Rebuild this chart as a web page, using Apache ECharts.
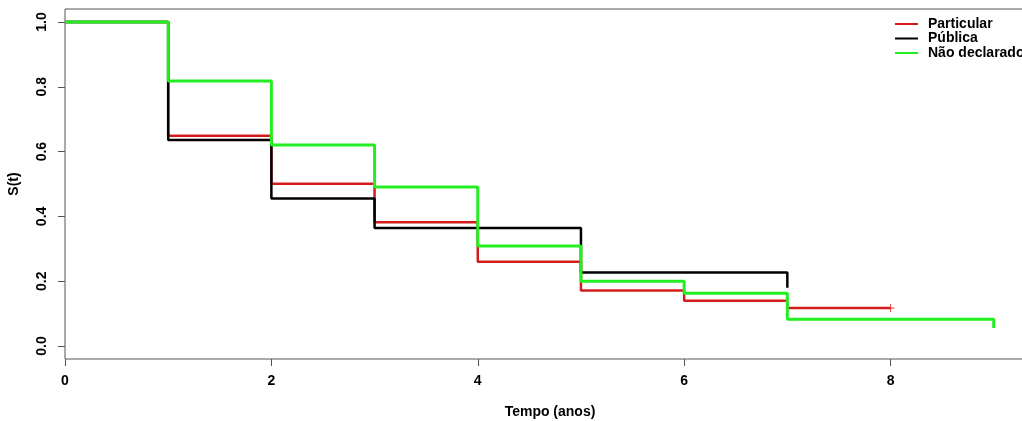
<!DOCTYPE html>
<html>
<head>
<meta charset="utf-8">
<script src="https://cdn.jsdelivr.net/npm/echarts@6/dist/echarts.min.js"></script>
<style>html,body{margin:0;padding:0;background:#fff}#c{width:1022px;height:421px}</style>
</head>
<body>
<div id="c"></div>
<script>
// Kaplan-Meier step values: value S holds from time t onward
const seriesNames = ['Particular', 'Pública', 'Não declarado'];
const timesParticular = [0, 1, 2, 3, 4, 5, 6, 7, 8];
const survParticular  = [1.0, 0.649, 0.501, 0.382, 0.260, 0.171, 0.140, 0.117, 0.117];
const timesPublica    = [0, 1, 2, 3, 5, 7];
const survPublica     = [1.0, 0.636, 0.455, 0.364, 0.227, 0.180];
const timesNaoDecl    = [0, 1, 2, 3, 4, 5, 6, 7, 9];
const survNaoDecl     = [1.0, 0.818, 0.620, 0.491, 0.309, 0.200, 0.163, 0.083, 0.056];
const censorParticular = [[8, 0.117]];
const xTicks = [0, 2, 4, 6, 8];
const yTicks = [0, 0.2, 0.4, 0.6, 0.8, 1.0];

const colors = ['#d41c1c', '#000000', '#22ee22'];
const widths = [2.5, 2.5, 3];
const zip = (t, s) => t.map((v, i) => [v, s[i]]);
const dataSets = [zip(timesParticular, survParticular), zip(timesPublica, survPublica), zip(timesNaoDecl, survNaoDecl)];

const font = 'Liberation Sans, Arial, sans-serif';
const chart = echarts.init(document.getElementById('c'), null, {renderer: 'canvas'});
const series = dataSets.map((d, i) => ({
  name: seriesNames[i],
  type: 'line',
  step: 'end',
  data: d,
  symbol: 'none',
  color: colors[i],
  lineStyle: {color: colors[i], width: widths[i]},
  animation: false,
  z: 2 + i
}));
series.push({
  name: 'censor',
  type: 'scatter',
  data: censorParticular,
  symbol: 'path://M0,5L10,5M5,0L5,10',
  symbolSize: 8,
  itemStyle: {color: 'none', borderColor: '#d41c1c', borderWidth: 1},
  animation: false,
  z: 2
});

chart.setOption({
  backgroundColor: '#ffffff',
  animation: false,
  grid: {left: 65, top: 9, right: -13, bottom: 62, show: true, borderColor: '#555', borderWidth: 1, backgroundColor: 'transparent', containLabel: false, outerBoundsMode: 'none'},
  legend: {
    data: seriesNames,
    orient: 'vertical',
    left: 895,
    top: 17,
    itemWidth: 23,
    itemHeight: 14,
    itemGap: 0.5,
    icon: 'path://M0,6.5H23V8.5H0Z',
    textStyle: {fontFamily: font, fontWeight: 'bold', fontSize: 14, color: '#000', lineHeight: 14, padding: [0, 0, 0, 5]},
    padding: 0
  },
  xAxis: {
    type: 'value',
    min: 0,
    max: 9.4,
    name: 'Tempo (anos)',
    nameLocation: 'middle',
    nameGap: 46,
    nameTextStyle: {fontFamily: font, fontWeight: 'bold', fontSize: 14, color: '#000'},
    axisLine: {show: false, onZero: false},
    splitLine: {show: false},
    axisTick: {show: true, length: 7, lineStyle: {color: '#555'}, customValues: xTicks},
    axisLabel: {fontFamily: font, fontWeight: 'bold', fontSize: 14, color: '#000', margin: 15, customValues: xTicks}
  },
  yAxis: {
    type: 'value',
    min: -0.04,
    max: 1.04,
    name: 'S(t)',
    nameLocation: 'middle',
    nameGap: 44,
    nameTextStyle: {fontFamily: font, fontWeight: 'bold', fontSize: 14, color: '#000'},
    axisLine: {show: false, onZero: false},
    splitLine: {show: false},
    axisTick: {show: true, length: 7, lineStyle: {color: '#555'}, customValues: yTicks},
    axisLabel: {fontFamily: font, fontWeight: 'bold', fontSize: 14, color: '#000', margin: 16, rotate: 90, customValues: yTicks, formatter: v => v.toFixed(1)}
  },
  series: series
});
</script>
</body>
</html>
